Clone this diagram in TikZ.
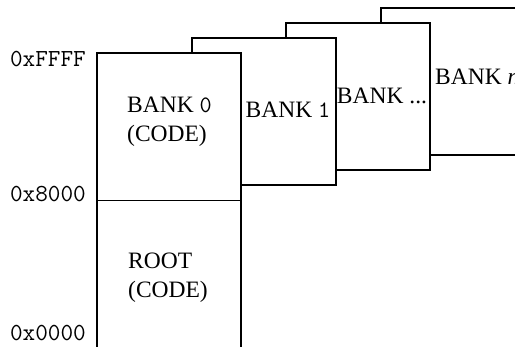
\documentclass[tikz,border=0pt]{standalone}
\usepackage{fontspec}
\setmainfont{Liberation Serif}
\begin{document}
\begin{tikzpicture}[x=1pt,y=-1pt,
  bank/.style={draw,line width=1.6pt,fill=white,anchor=north west,minimum width=144pt,minimum height=147pt,inner sep=0pt,outer sep=0pt},
  lbl/.style={font=\fontsize{23.5}{29}\selectfont,inner sep=0pt,align=left},
  addr/.style={font=\fontsize{24.5}{26}\ttfamily,anchor=east,inner sep=0pt}]
\useasboundingbox (0,0) rectangle (515,347);
\clip (0,0) rectangle (515,347);
\node[bank] (bn) at (381,8) {};
\node[bank] (bd) at (286,23) {};
\node[bank] (b1) at (192,38) {};
\node[bank,minimum height=320pt] (b0) at (97,53) {};
\coordinate (divl) at (97,200);
\coordinate (divr) at (241,200);
\draw[line width=0.9pt] (divl) -- (divr);
\node[lbl,anchor=west] (t0) at (127,122) {BANK \texttt{0}\\(CODE)};
\node[lbl,anchor=west] (tr) at (128,278) {ROOT\\(CODE)};
\node[lbl] (t1) at (288,110) {BANK \texttt{1}};
\node[lbl] (td) at (382,96) {BANK ...};
\node[lbl,anchor=west] (tn) at (435,77) {BANK \textit{n}};
\node[addr] (aF) at (86,59) {0xFFFF};
\node[addr] (a8) at (86,194) {0x8000};
\node[addr,anchor=base east] (a0) at (86,341) {0x0000};
\end{tikzpicture}
\end{document}
